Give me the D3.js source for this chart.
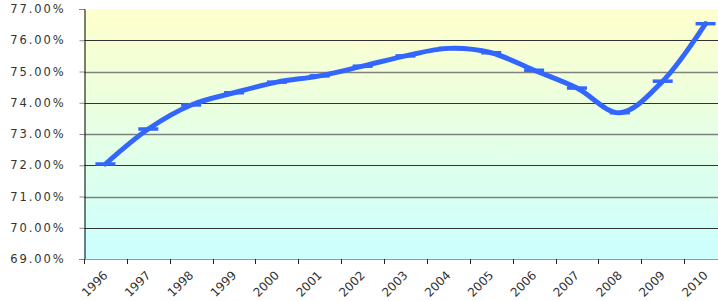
<!DOCTYPE html>
<html>
<head>
<meta charset="utf-8">
<script src="https://cdn.jsdelivr.net/npm/d3@7"></script>
<style>
  body { margin: 0; background: #fff; }
  text { font-family: "DejaVu Sans", Verdana, sans-serif; fill: #333; }
</style>
</head>
<body>
<svg width="718" height="301"></svg>
<script>
var years = ["1996","1997","1998","1999","2000","2001","2002","2003","2004","2005","2006","2007","2008","2009","2010"];
var rates = [72.04, 73.16, 73.93, 74.32, 74.66, 74.86, 75.17, 75.50, 75.74, 75.60, 75.04, 74.47, 73.68, 74.69, 76.53];
var yTicks = [69, 70, 71, 72, 73, 74, 75, 76, 77];

var svg = d3.select("svg"),
    plotLeft = 84, plotTop = 9,
    plotW = 643, plotH = 250;

var x = d3.scaleBand().domain(years).range([plotLeft, plotLeft + plotW]),
    y = d3.scaleLinear().domain([69, 77]).range([plotTop + plotH, plotTop]);

var defs = svg.append("defs");
var grad = defs.append("linearGradient").attr("id", "bg")
    .attr("x1", 0).attr("y1", 0).attr("x2", 0).attr("y2", 1);
grad.append("stop").attr("offset", "0%").attr("stop-color", "#ffffcc");
grad.append("stop").attr("offset", "100%").attr("stop-color", "#ccffff");

svg.append("rect")
    .attr("x", plotLeft).attr("y", plotTop)
    .attr("width", plotW).attr("height", plotH)
    .attr("fill", "url(#bg)");

// gridlines
svg.append("g").selectAll("line")
  .data(yTicks.filter(function(d) { return d > 69 && d < 77; }))
  .enter().append("line")
    .attr("x1", plotLeft).attr("x2", plotLeft + plotW)
    .attr("y1", function(d) { return Math.round(y(d)) + 0.5; })
    .attr("y2", function(d) { return Math.round(y(d)) + 0.5; })
    .attr("stroke", function(d) { return d % 2 == 0 ? "#333" : "#808080"; })
    .attr("stroke-width", function(d) { return d % 2 == 0 ? 1 : 1.5; });

// y axis
var yAxis = svg.append("g")
    .attr("transform", "translate(" + (plotLeft + 0.5) + ",0)")
    .call(d3.axisLeft(y).tickValues(yTicks).tickSize(5).tickPadding(14)
      .tickFormat(function(d) { return d.toFixed(2) + "%"; }));
yAxis.select(".domain").attr("stroke", "#000");
yAxis.selectAll(".tick line").attr("stroke", "#888");
yAxis.selectAll("text")
    .style("font-size", "11.5px")
    .style("letter-spacing", "1.9px")
    .attr("fill", "#333");

// x axis: labels centered in bands, ticks on band edges
svg.append("line")
    .attr("x1", plotLeft).attr("x2", plotLeft + plotW)
    .attr("y1", plotTop + plotH + 0.5).attr("y2", plotTop + plotH + 0.5)
    .attr("stroke", "#999");

svg.append("g").selectAll("line")
  .data(years)
  .enter().append("line")
    .attr("x1", function(d) { return Math.round(x(d)) + 0.5; })
    .attr("x2", function(d) { return Math.round(x(d)) + 0.5; })
    .attr("y1", plotTop + plotH).attr("y2", plotTop + plotH + 5)
    .attr("stroke", "#222");

var xAxis = svg.append("g")
    .attr("transform", "translate(0," + (plotTop + plotH) + ")")
    .call(d3.axisBottom(x).tickSize(0).tickPadding(0));
xAxis.select(".domain").remove();
xAxis.selectAll("text")
    .style("font-size", "12px")
    .attr("fill", "#222")
    .attr("text-anchor", "end")
    .attr("dy", null)
    .attr("y", 0)
    .attr("transform", "translate(3,17) rotate(-45)");

// line
var line = d3.line()
    .x(function(d, i) { return x(years[i]) + x.bandwidth() / 2; })
    .y(function(d) { return y(d); })
    .curve(d3.curveCatmullRom.alpha(0.5));

svg.append("path")
    .datum(rates)
    .attr("fill", "none")
    .attr("stroke", "#3366ff")
    .attr("stroke-width", 5)
    .attr("stroke-linecap", "round")
    .attr("d", line);

// dash markers
svg.append("g").selectAll("line")
  .data(rates)
  .enter().append("line")
    .attr("x1", function(d, i) { return x(years[i]) + x.bandwidth() / 2 - 10; })
    .attr("x2", function(d, i) { return x(years[i]) + x.bandwidth() / 2 + 10; })
    .attr("y1", function(d) { return y(d); })
    .attr("y2", function(d) { return y(d); })
    .attr("stroke", "#3366ff")
    .attr("stroke-width", 3.5);
</script>
</body>
</html>
